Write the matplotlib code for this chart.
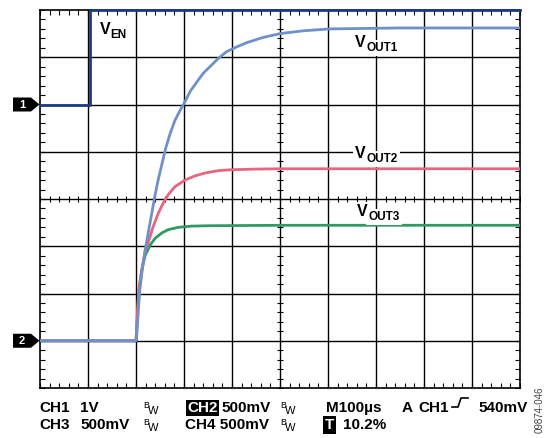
import matplotlib
matplotlib.use("Agg")
import matplotlib.pyplot as plt
import matplotlib.transforms as mtransforms
from matplotlib.lines import Line2D
from matplotlib.patches import Polygon
import numpy as np

plt.rcParams['font.family'] = ['Liberation Sans', 'DejaVu Sans']

# time axis: M100us -> 100 us/div, 10 div
t_en = [0, 105, 105, 1000]
v_en = [0, 0, 2.0, 2.0]          # CH1, 1 V/div (clipped at top of screen)

t_out1 = [0, 200, 201, 205, 208, 213, 219, 229, 240, 247, 254, 262, 271, 281, 292, 301,
          313, 327, 340, 354, 372, 389, 410, 431, 465, 500, 549, 604, 680, 750, 850, 1000]
v_out1 = [0, 0, 0.01, 0.33, 0.54, 0.75, 0.96, 1.24, 1.55, 1.72, 1.87, 2.04, 2.19, 2.33, 2.44, 2.52,
          2.64, 2.74, 2.83, 2.90, 2.99, 3.06, 3.11, 3.155, 3.21, 3.25, 3.28, 3.30, 3.305, 3.31, 3.31, 3.31]

t_out2 = [0, 200, 203.5, 206, 212, 219, 226, 236, 246.5, 257, 267, 281, 302, 323, 344, 371,
          399, 455, 510, 1000]
v_out2 = [0, 0, 0.33, 0.54, 0.74, 0.95, 1.05, 1.21, 1.35, 1.46, 1.545, 1.63, 1.70, 1.745, 1.775, 1.80,
          1.81, 1.817, 1.82, 1.82]

t_out3 = [0, 200, 203.5, 206, 212, 219, 229, 240, 253.5, 267, 288, 316, 351, 510, 1000]
v_out3 = [0, 0, 0.33, 0.54, 0.75, 0.90, 1.01, 1.085, 1.14, 1.175, 1.20, 1.213, 1.217, 1.222, 1.222]

# channel settings: (ground level in div, volts per div)
ch1_gnd, ch1_scale = 6, 1.0
ch2_gnd, ch2_scale = 1, 0.5

W, H = 549, 438


def px(x, y):
    return x / W, 1 - y / H


def to_div(v, gnd, scale):
    return gnd + np.array(v) / scale


fig = plt.figure(figsize=(W / 100, H / 100), dpi=100)
ax = fig.add_axes([40 / W, 50 / H, 480 / W, 378 / H])
ax.set_xlim(0, 1000)
ax.set_ylim(0, 8)

# graticule
for i in range(1, 10):
    ax.axvline(i * 100, color='black', lw=1.0, zorder=1)
for j in range(1, 8):
    ax.axhline(j, color='black', lw=1.0, zorder=1)
for s in ax.spines.values():
    s.set_linewidth(1.2)

ax.set_xticks(np.arange(0, 1001, 20))
ax.set_yticks(np.arange(0, 8.01, 0.2))
ax.set_xticklabels([])
ax.set_yticklabels([])
ax.tick_params(direction='in', length=3.5, width=0.8, top=True, right=True)

# ticks on the centre lines
ax.plot(np.arange(0, 1001, 20), np.full(51, 4.0), ls='none', marker='|',
        ms=4, mew=0.8, color='black', zorder=1)
ax.plot(np.full(41, 500.0), np.arange(0, 8.01, 0.2), ls='none', marker='_',
        ms=4, mew=0.8, color='black', zorder=1)

# traces
ax.plot(t_out3, to_div(v_out3, ch2_gnd, ch2_scale), color='#2f9a64', lw=2, zorder=3)
ax.plot(t_out2, to_div(v_out2, ch2_gnd, ch2_scale), color='#e9657f', lw=2, zorder=3)
ax.plot(t_out1, to_div(v_out1, ch2_gnd, ch2_scale), color='#7090c8', lw=2, zorder=4)
ax.plot(t_en, to_div(v_en, ch1_gnd, ch1_scale), color='#1b3c84', lw=2,
        zorder=5, clip_on=False)


# labels with subscripts
def sub_label(x, y, sub, bg=True):
    box = dict(fc='white', ec='none', pad=1.5) if bg else None
    ax.text(x, y, 'V', ha='right', va='baseline', fontsize=11.5,
            fontweight='bold', bbox=box, zorder=6)
    ax.annotate(sub, xy=(x, y), xycoords='data', xytext=(0.3, -3),
                textcoords='offset points', ha='left', va='baseline',
                fontsize=8.5, fontweight='bold', bbox=box, zorder=6)


sub_label(146, 7.49, 'EN', bg=False)
sub_label(679, 7.22, 'OUT1')
sub_label(679, 4.87, 'OUT2')
sub_label(683, 3.64, 'OUT3')

# ground markers
tr = mtransforms.blended_transform_factory(fig.transFigure, ax.transData)
for lab, lvl in [('1', ch1_gnd), ('2', ch2_gnd)]:
    hh = 7 / 47.25
    verts = [(13 / W, lvl - hh), (31 / W, lvl - hh), (39.5 / W, lvl),
             (31 / W, lvl + hh), (13 / W, lvl + hh)]
    fig.add_artist(Polygon(verts, closed=True, transform=tr, fc='black', ec='none'))
    fig.text(22 / W, lvl, lab, transform=tr, ha='center', va='center',
             color='white', fontsize=8, fontweight='bold')

# status bar
fs = 11
rows = [412, 429]


def status(x, row, s, **kw):
    fig.text(*px(x, rows[row]), s, ha='left', va='baseline', fontsize=fs,
             fontweight='bold', **kw)


def bw(x, row):
    y = rows[row]
    fig.text(*px(x, y - 4), 'B', ha='left', va='baseline', fontsize=6.5)
    fig.text(*px(x + 5, y + 2), 'W', ha='left', va='baseline', fontsize=8)


status(39, 0, 'CH1')
status(80, 0, '1V')
bw(143, 0)
status(187, 0, 'CH2', color='white', bbox=dict(fc='black', ec='none', pad=1))
status(221, 0, '500mV')
bw(280, 0)
status(326, 0, 'M100\u00b5s')
status(402, 0, 'A')
status(418, 0, 'CH1')
status(478, 0, '540mV')

status(39, 1, 'CH3')
status(80, 1, '500mV')
bw(143, 1)
status(185, 1, 'CH4 500mV')
bw(280, 1)
status(325, 1, 'T', color='white', bbox=dict(fc='black', ec='none', pad=1.2))
status(343, 1, '10.2%')

# trigger edge symbol
xs = [452, 458, 461, 468]
ys = [407, 407, 398, 398]
fig.add_artist(Line2D([x / W for x in xs], [1 - y / H for y in ys],
                      transform=fig.transFigure, color='black', lw=1.2))

fig.text(*px(540, 410), '09874-046', rotation=90, ha='center', va='center',
         fontsize=7, color='#444444')

fig.savefig('out.png', dpi=100)
